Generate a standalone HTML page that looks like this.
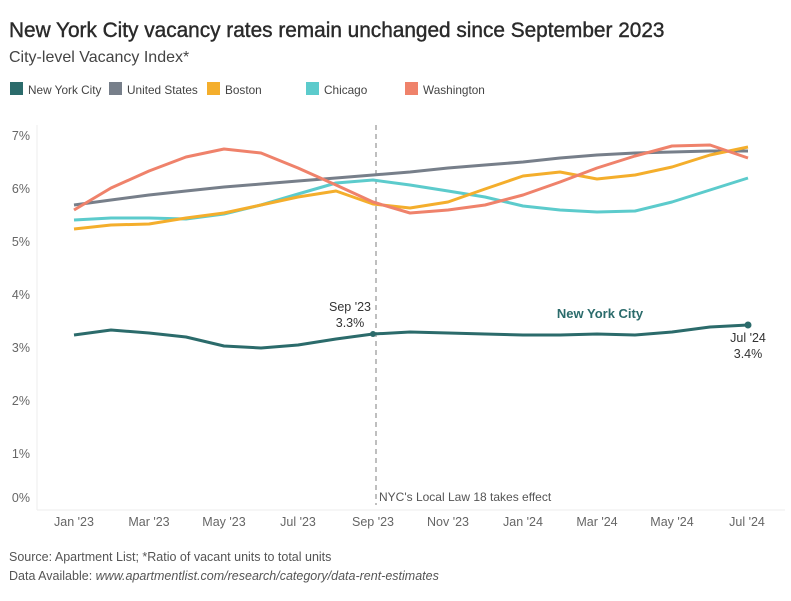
<!DOCTYPE html>
<html><head><meta charset="utf-8"><style>
body{margin:0;background:#fff;width:791px;height:596px;overflow:hidden;font-family:"Liberation Sans",sans-serif}
</style></head><body>
<svg width="791" height="596" viewBox="0 0 791 596" xmlns="http://www.w3.org/2000/svg" font-family="Liberation Sans, sans-serif">
<text x="9" y="37" font-size="20.8" fill="#2a2a2a" stroke="#2a2a2a" stroke-width="0.4">New York City vacancy rates remain unchanged since September 2023</text>
<text x="9" y="62" font-size="16" fill="#444">City-level Vacancy Index*</text>
<g font-size="11.8" fill="#444">
<rect x="10" y="82" width="13" height="13" fill="#2b6b6b"/><text x="28" y="94">New York City</text>
<rect x="109" y="82" width="13" height="13" fill="#777f8a"/><text x="127" y="94">United States</text>
<rect x="207" y="82" width="13" height="13" fill="#f4ae2c"/><text x="225" y="94">Boston</text>
<rect x="306" y="82" width="13" height="13" fill="#5ccbcc"/><text x="324" y="94">Chicago</text>
<rect x="405" y="82" width="13" height="13" fill="#ef826b"/><text x="423" y="94">Washington</text>
</g>
<line x1="37" y1="125" x2="37" y2="510" stroke="#eee"/>
<line x1="37" y1="510" x2="785" y2="510" stroke="#eee"/>
<g font-size="12.5" fill="#666" text-anchor="end">
<text x="30" y="140">7%</text><text x="30" y="193">6%</text><text x="30" y="246">5%</text><text x="30" y="299">4%</text><text x="30" y="352">3%</text><text x="30" y="405">2%</text><text x="30" y="458">1%</text><text x="30" y="502">0%</text>
</g>
<g font-size="12.5" fill="#666" text-anchor="middle">
<text x="74" y="526">Jan '23</text><text x="149" y="526">Mar '23</text><text x="224" y="526">May '23</text><text x="298" y="526">Jul '23</text><text x="373" y="526">Sep '23</text><text x="448" y="526">Nov '23</text><text x="523" y="526">Jan '24</text><text x="597" y="526">Mar '24</text><text x="672" y="526">May '24</text><text x="747" y="526">Jul '24</text>
</g>
<line x1="376" y1="125" x2="376" y2="505" stroke="#aaa" stroke-width="1.5" stroke-dasharray="5,4"/>
<text x="379" y="501" font-size="12" fill="#555">NYC's Local Law 18 takes effect</text>
<g fill="none" stroke-width="3" stroke-linejoin="round">
<polyline stroke="#777f8a" points="74,205 111,200 149,195 186,191 224,187 261,184 298,181 336,178 373,175 410,172 448,168 485,165 523,162 560,158 597,155 635,153 672,152 710,151 748,151"/>
<polyline stroke="#5ccbcc" points="74,220 111,218 149,218 186,219 224,214 261,205 298,194 336,183 373,180 410,185 448,191 485,197 523,206 560,210 597,212 635,211 672,202 710,190 748,178"/>
<polyline stroke="#f4ae2c" points="74,229 111,225 149,224 186,218 224,213 261,205 298,197 336,191 373,204 410,208 448,202 485,189 523,176 560,172 597,179 635,175 672,167 710,155 748,147"/>
<polyline stroke="#ef826b" points="74,210 111,188 149,171 186,157 224,149 261,153 298,168 336,185 373,202 410,213 448,210 485,205 523,195 560,182 597,168 635,156 672,146 710,145 748,158"/>
<polyline stroke="#2b6b6b" points="74,335 111,330 149,333 186,337 224,346 261,348 298,345 336,339 373,334 410,332 448,333 485,334 523,335 560,335 597,334 635,335 672,332 710,327 748,325"/>
</g>
<circle cx="373" cy="334" r="3" fill="#2b6b6b"/><circle cx="748" cy="325" r="3.5" fill="#2b6b6b"/>
<g font-size="12.5" fill="#333" text-anchor="middle">
<text x="350" y="311">Sep '23</text><text x="350" y="327">3.3%</text>
<text x="748" y="342">Jul '24</text><text x="748" y="358">3.4%</text>
</g>
<text x="600" y="318" font-size="13" font-weight="bold" fill="#2b6b6b" text-anchor="middle">New York City</text>
<text x="9" y="561" font-size="12.5" fill="#555">Source: Apartment List; *Ratio of vacant units to total units</text>
<text x="9" y="580" font-size="12.5" fill="#555">Data Available: <tspan font-style="italic">www.apartmentlist.com/research/category/data-rent-estimates</tspan></text>
</svg>
</body></html>
